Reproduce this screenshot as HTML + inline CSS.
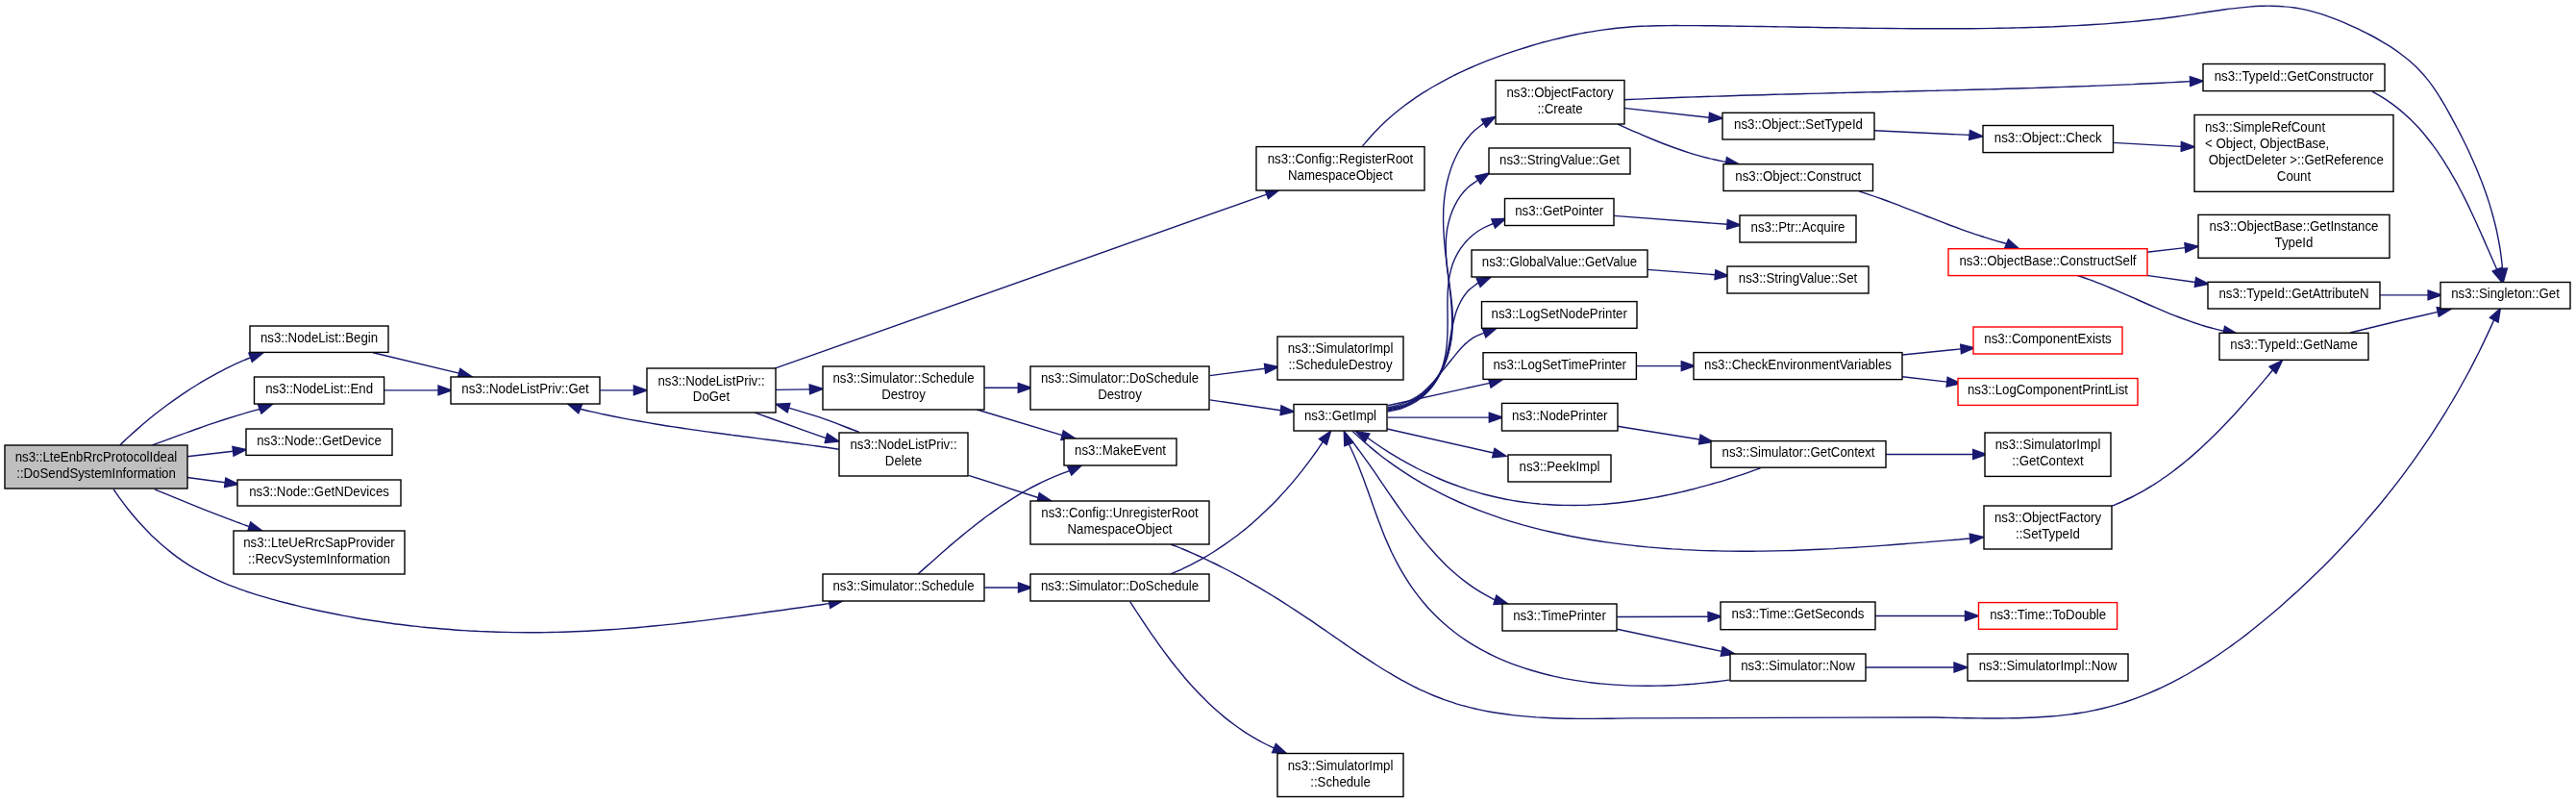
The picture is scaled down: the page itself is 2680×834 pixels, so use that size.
<!DOCTYPE html>
<html><head><meta charset="utf-8"><style>html,body{margin:0;padding:0;background:#fff;}svg{display:block;will-change:transform}text{font-family:"Liberation Sans",sans-serif;font-size:13.25px;fill:#000}</style></head><body>
<svg width="2680" height="834" viewBox="0 0 2680 834">
<g fill="none" stroke="#191970" stroke-width="1.4">
<path d="M124.8,462.9 C127.9,460.0 130.9,457.0 134.1,454.1 C137.2,451.2 140.4,448.4 143.6,445.6 C146.8,442.8 150.1,440.0 153.3,437.3 C156.5,434.6 159.7,432.1 162.9,429.5 C166.3,426.9 169.7,424.3 173.1,421.7 C176.5,419.2 180.0,416.7 183.5,414.3 C186.9,411.9 190.2,409.6 193.7,407.3 C197.2,405.0 200.8,402.7 204.5,400.5 C208.1,398.2 211.8,396.0 215.5,393.9 C219.1,391.9 222.6,389.9 226.3,387.9 C230.0,386.0 233.8,384.0 237.6,382.1 C241.5,380.2 245.3,378.4 249.2,376.7 C253.0,374.9 256.8,373.4 260.6,371.8"/>
<path d="M158.4,462.9 C162.6,461.4 166.8,459.9 170.9,458.4 C175.0,456.9 179.0,455.4 183.1,453.9 C187.3,452.4 191.5,450.8 195.6,449.4 C199.7,447.9 203.8,446.4 207.9,445.0 C212.0,443.5 216.1,442.1 220.2,440.7 C224.4,439.3 228.6,437.9 232.8,436.5 C237.0,435.2 241.1,433.9 245.2,432.6 C249.4,431.3 253.5,430.1 257.7,428.9 C261.9,427.7 266.1,426.6 270.2,425.5"/>
<path d="M194.7,474.8 L242.5,469.2"/>
<path d="M194.8,496.5 L234.2,501.8"/>
<path d="M160.9,508.9 C177.2,515.5 193.4,522.3 209.8,528.8 C226.2,535.3 242.8,541.4 259.2,547.7"/>
<path d="M118.2,509.0 C120.9,512.8 123.6,516.8 126.3,520.4 C128.8,523.8 131.1,526.8 133.6,530.0 C136.1,533.1 138.7,536.2 141.3,539.2 C143.9,542.2 146.6,545.2 149.3,548.1 C152.0,551.0 154.8,553.9 157.6,556.7 C160.5,559.4 163.4,562.1 166.3,564.8 C169.3,567.4 172.3,570.0 175.4,572.4 C178.4,574.9 181.4,577.2 184.7,579.6 C188.3,582.2 192.4,584.9 196.1,587.3 C199.5,589.4 202.7,591.3 206.1,593.2 C209.5,595.2 213.0,597.0 216.5,598.7 C220.0,600.5 223.6,602.1 227.1,603.7 C230.7,605.3 234.2,606.8 238.0,608.3 C242.1,609.9 246.7,611.7 250.9,613.1 C254.7,614.5 258.4,615.7 262.1,616.9 C265.9,618.2 269.7,619.3 273.5,620.4 C277.3,621.6 281.1,622.6 285.0,623.7 C288.8,624.8 292.6,625.8 296.5,626.8 C300.4,627.7 304.2,628.7 308.1,629.6 C311.9,630.6 315.8,631.5 319.7,632.4 C323.6,633.3 327.3,634.1 331.3,635.0 C335.7,635.9 340.6,636.9 344.9,637.8 C349.0,638.6 352.7,639.3 356.6,640.1 C360.5,640.8 364.5,641.5 368.4,642.2 C372.3,642.9 376.2,643.6 380.1,644.2 C384.0,644.8 387.9,645.4 391.9,646.0 C395.8,646.6 399.7,647.2 403.6,647.7 C407.6,648.3 411.5,648.8 415.4,649.3 C419.4,649.8 423.2,650.3 427.2,650.7 C431.7,651.2 436.6,651.8 441.0,652.2 C445.1,652.6 448.9,653.0 452.9,653.3 C456.8,653.7 460.8,654.0 464.7,654.3 C468.7,654.7 472.6,654.9 476.6,655.2 C480.5,655.5 484.5,655.7 488.5,656.0 C492.4,656.2 496.4,656.4 500.3,656.6 C504.3,656.7 508.1,656.9 512.2,657.0 C516.7,657.2 521.6,657.3 526.1,657.4 C530.2,657.5 534.0,657.6 538.0,657.6 C541.9,657.7 545.9,657.7 549.8,657.7 C553.8,657.7 557.8,657.7 561.7,657.7 C565.7,657.6 569.6,657.6 573.6,657.5 C577.6,657.4 581.5,657.3 585.5,657.2 C589.4,657.1 593.2,657.0 597.3,656.8 C601.8,656.6 606.7,656.4 611.2,656.2 C615.3,656.0 619.1,655.8 623.0,655.5 C627.0,655.3 630.9,655.1 634.9,654.8 C638.8,654.5 642.8,654.2 646.7,653.9 C650.7,653.6 654.6,653.3 658.5,653.0 C662.5,652.6 666.4,652.3 670.4,651.9 C674.3,651.6 678.1,651.2 682.2,650.8 C686.6,650.4 691.5,649.9 696.0,649.4 C700.1,649.0 703.8,648.6 707.8,648.1 C711.7,647.7 715.6,647.2 719.6,646.8 C723.5,646.3 727.4,645.8 731.4,645.4 C735.3,644.9 739.2,644.4 743.2,643.9 C747.1,643.4 751.0,642.9 754.9,642.4 C758.9,641.9 762.6,641.4 766.7,640.9 C771.1,640.3 776.1,639.6 780.5,639.0 C784.5,638.5 788.3,638.0 792.2,637.4 C796.2,636.9 800.1,636.3 804.0,635.8 C807.9,635.3 811.9,634.7 815.8,634.2 C819.7,633.6 823.6,633.1 827.6,632.5 C831.5,632.0 835.4,631.4 839.3,630.9 C843.2,630.3 847.2,629.8 851.1,629.2 C855.0,628.7 858.9,628.1 862.9,627.6"/>
<path d="M388.1,366.7 L477.5,388.1"/>
<path d="M399.8,405.9 L456.0,405.9"/>
<path d="M624.3,405.9 L659.4,405.9"/>
<path d="M872.6,467.2 C868.3,466.6 864.0,465.9 859.8,465.3 C855.7,464.8 851.7,464.2 847.6,463.6 C843.6,463.1 839.5,462.5 835.4,462.0 C831.4,461.4 827.3,460.9 823.3,460.4 C819.2,459.8 815.1,459.3 811.1,458.8 C807.0,458.2 803.0,457.7 798.9,457.2 C794.8,456.7 790.8,456.2 786.7,455.6 C782.5,455.1 778.1,454.5 773.8,454.0 C769.7,453.4 765.7,452.9 761.6,452.4 C757.6,451.8 753.5,451.3 749.4,450.8 C745.4,450.2 741.3,449.7 737.3,449.1 C733.2,448.6 729.2,448.0 725.1,447.4 C721.0,446.9 717.0,446.3 712.9,445.7 C708.9,445.1 704.8,444.5 700.8,443.9 C696.7,443.3 692.7,442.7 688.6,442.0 C684.4,441.3 680.1,440.6 675.9,439.9 C671.8,439.2 667.8,438.5 663.8,437.8 C659.7,437.1 655.7,436.4 651.7,435.6 C647.7,434.8 643.7,434.0 639.6,433.2 C635.6,432.4 631.6,431.6 627.6,430.7 C623.6,429.9 619.6,429.0 615.6,428.1 C611.6,427.2 607.7,426.2 603.7,425.2"/>
<path d="M807.1,405.4 L842.4,404.9"/>
<path d="M784.8,428.8 C801.4,434.8 820.8,441.9 834.5,446.8 C844.2,450.3 851.1,452.7 859.4,455.6"/>
<path d="M893.9,449.4 C879.9,444.2 865.0,438.1 852.0,433.7 C840.8,429.9 831.1,427.3 820.6,424.1"/>
<path d="M806.0,383.2 L1317.8,202.1"/>
<path d="M1007.8,494.4 L1080.1,517.5"/>
<path d="M1024.4,403.3 L1059.3,403.3"/>
<path d="M1016.6,426.0 L1105.1,452.6"/>
<path d="M954.8,597.2 C957.9,594.4 961.0,591.6 964.1,588.9 C967.1,586.2 970.1,583.6 973.1,580.9 C976.1,578.2 979.1,575.6 982.1,573.0 C985.1,570.4 987.9,567.9 990.9,565.4 C994.0,562.8 997.1,560.2 1000.2,557.6 C1003.3,555.0 1006.4,552.5 1009.6,550.0 C1012.7,547.5 1015.9,545.0 1019.1,542.5 C1022.3,540.1 1025.5,537.6 1028.8,535.3 C1032.0,532.9 1035.3,530.6 1038.6,528.3 C1041.9,526.0 1045.2,523.8 1048.6,521.6 C1052.0,519.4 1055.4,517.3 1058.8,515.2 C1062.2,513.1 1065.7,511.1 1069.2,509.2 C1072.7,507.2 1076.3,505.3 1079.9,503.5 C1083.4,501.7 1087.1,500.0 1090.7,498.4 C1094.4,496.7 1098.1,495.1 1101.8,493.6 C1105.5,492.2 1109.1,490.9 1112.7,489.6"/>
<path d="M1024.4,611.0 L1059.5,611.0"/>
<path d="M1258.7,390.6 L1316.1,383.2"/>
<path d="M1258.7,415.9 L1332.6,426.8"/>
<path d="M1218.0,596.9 C1221.9,595.2 1225.9,593.5 1229.8,591.8 C1233.5,590.0 1237.1,588.3 1240.8,586.4 C1244.5,584.4 1248.4,582.4 1252.0,580.3 C1255.6,578.2 1259.0,576.2 1262.5,574.0 C1266.1,571.7 1269.7,569.3 1273.2,566.9 C1276.6,564.6 1279.9,562.3 1283.2,559.8 C1286.6,557.3 1290.0,554.6 1293.3,552.0 C1296.5,549.4 1299.6,546.9 1302.7,544.2 C1305.9,541.4 1309.2,538.5 1312.2,535.6 C1315.3,532.8 1318.2,530.0 1321.1,527.1 C1324.1,524.1 1327.2,521.0 1330.1,517.9 C1332.9,514.9 1335.6,512.0 1338.4,508.9 C1341.2,505.7 1344.1,502.4 1346.8,499.1 C1349.4,496.0 1352.0,492.8 1354.5,489.6 C1357.0,486.4 1359.5,483.2 1362.0,479.9 C1364.5,476.5 1367.0,472.9 1369.5,469.5 C1371.8,466.1 1374.1,462.8 1376.3,459.4"/>
<path d="M1175.7,625.6 C1177.9,629.1 1180.2,632.5 1182.4,636.0 C1184.6,639.3 1186.7,642.6 1188.9,645.9 C1191.1,649.2 1193.3,652.5 1195.6,655.8 C1197.9,659.2 1200.4,662.7 1202.8,666.1 C1205.1,669.4 1207.4,672.6 1209.8,675.9 C1212.2,679.1 1214.6,682.3 1217.0,685.5 C1219.4,688.7 1221.9,691.8 1224.4,694.9 C1227.0,698.1 1229.5,701.2 1232.1,704.2 C1234.7,707.3 1237.3,710.3 1240.0,713.2 C1242.7,716.2 1245.4,719.1 1248.2,722.0 C1251.0,724.8 1253.8,727.7 1256.7,730.4 C1259.5,733.2 1262.4,735.8 1265.4,738.5 C1268.5,741.2 1271.7,744.0 1274.9,746.6 C1278.0,749.1 1281.1,751.5 1284.3,753.8 C1287.5,756.2 1290.7,758.4 1294.0,760.6 C1297.3,762.8 1300.7,764.9 1304.1,766.9 C1307.7,769.0 1311.5,771.1 1315.1,773.0 C1318.6,774.8 1322.0,776.3 1325.5,777.9"/>
<path d="M1417.5,151.9 C1420.6,148.3 1423.8,144.4 1426.7,141.2 C1429.2,138.4 1431.3,136.3 1433.9,133.7 C1436.9,130.6 1440.8,127.0 1444.0,124.1 C1446.7,121.6 1448.9,119.7 1451.8,117.3 C1455.1,114.6 1459.2,111.4 1462.6,108.8 C1465.6,106.6 1467.9,104.9 1471.0,102.8 C1474.5,100.4 1478.9,97.6 1482.5,95.3 C1485.6,93.3 1488.1,91.8 1491.3,90.0 C1495.0,87.8 1499.5,85.3 1503.3,83.3 C1506.6,81.5 1509.2,80.2 1512.5,78.5 C1516.3,76.7 1521.1,74.4 1525.0,72.6 C1528.4,71.1 1531.1,69.9 1534.5,68.4 C1538.4,66.8 1543.3,64.8 1547.3,63.2 C1550.8,61.8 1553.5,60.8 1557.0,59.5 C1561.1,58.0 1566.0,56.2 1570.1,54.9 C1573.6,53.6 1576.4,52.7 1580.0,51.6 C1584.0,50.3 1589.1,48.7 1593.2,47.5 C1596.8,46.4 1599.6,45.6 1603.2,44.6 C1607.3,43.5 1612.4,42.1 1616.6,41.1 C1620.1,40.2 1623.0,39.5 1626.6,38.7 C1630.8,37.7 1636.0,36.6 1640.1,35.8 C1643.8,35.0 1646.7,34.5 1650.3,33.8 C1654.5,33.1 1659.7,32.2 1663.9,31.6 C1667.6,31.1 1670.5,30.7 1674.2,30.2 C1678.4,29.7 1683.6,29.1 1687.9,28.7 C1691.5,28.3 1694.5,28.1 1698.2,27.8 C1702.4,27.6 1707.3,27.3 1711.9,27.1 C1716.5,26.9 1721.4,26.8 1725.7,26.7 C1729.4,26.6 1732.3,26.6 1736.0,26.6 C1740.3,26.5 1745.6,26.5 1749.9,26.6 C1753.6,26.6 1756.5,26.6 1760.2,26.6 C1764.5,26.6 1769.8,26.7 1774.1,26.7 C1777.8,26.8 1780.7,26.8 1784.4,26.8 C1788.7,26.9 1794.0,27.0 1798.3,27.0 C1802.0,27.1 1804.9,27.1 1808.6,27.2 C1812.9,27.2 1818.2,27.3 1822.5,27.4 C1826.2,27.4 1829.1,27.5 1832.8,27.5 C1837.1,27.6 1842.4,27.7 1846.7,27.8 C1850.4,27.8 1853.3,27.9 1857.1,27.9 C1861.3,28.0 1866.6,28.1 1870.9,28.2 C1874.6,28.2 1877.8,28.3 1881.3,28.3 C1884.7,28.4 1887.9,28.4 1891.6,28.5 C1895.9,28.6 1901.2,28.7 1905.5,28.7 C1909.2,28.8 1912.1,28.8 1915.9,28.9 C1920.1,29.0 1925.4,29.0 1929.7,29.1 C1933.4,29.2 1936.3,29.2 1940.1,29.2 C1944.3,29.3 1949.6,29.4 1953.9,29.4 C1957.6,29.5 1960.5,29.5 1964.3,29.5 C1968.5,29.6 1973.8,29.6 1978.1,29.6 C1981.8,29.7 1984.7,29.7 1988.4,29.7 C1992.7,29.7 1998.0,29.8 2002.3,29.8 C2006.0,29.8 2008.9,29.8 2012.6,29.8 C2016.9,29.8 2022.2,29.8 2026.4,29.8 C2030.1,29.8 2033.1,29.8 2036.8,29.8 C2041.1,29.7 2046.3,29.7 2050.6,29.7 C2054.3,29.6 2057.3,29.6 2061.0,29.6 C2065.2,29.5 2070.2,29.4 2074.8,29.4 C2079.4,29.3 2084.3,29.2 2088.6,29.1 C2092.3,29.0 2095.2,29.0 2098.9,28.9 C2103.2,28.8 2108.4,28.6 2112.7,28.5 C2116.4,28.4 2119.3,28.3 2123.0,28.2 C2127.3,28.0 2132.5,27.8 2136.8,27.7 C2140.5,27.5 2143.5,27.4 2147.1,27.2 C2151.4,27.0 2156.7,26.8 2160.9,26.6 C2164.6,26.4 2167.5,26.2 2171.2,26.0 C2175.5,25.7 2180.7,25.4 2185.0,25.1 C2188.7,24.9 2191.6,24.7 2195.3,24.4 C2199.6,24.1 2204.8,23.7 2209.1,23.3 C2212.8,23.0 2215.7,22.7 2219.4,22.4 C2223.6,22.0 2228.9,21.5 2233.1,21.0 C2236.8,20.6 2239.7,20.3 2243.4,19.9 C2247.7,19.4 2252.9,18.8 2257.2,18.2 C2260.9,17.8 2263.8,17.4 2267.5,16.9 C2271.7,16.3 2277.0,15.5 2281.2,14.9 C2284.9,14.3 2287.8,13.8 2291.5,13.3 C2295.8,12.6 2301.0,11.8 2305.2,11.2 C2308.9,10.7 2311.8,10.2 2315.5,9.7 C2319.8,9.2 2325.0,8.5 2329.2,8.1 C2332.9,7.7 2335.8,7.4 2339.5,7.1 C2343.7,6.8 2348.9,6.5 2353.1,6.3 C2356.8,6.2 2359.7,6.1 2363.4,6.2 C2367.6,6.3 2372.8,6.5 2377.0,6.9 C2380.6,7.1 2383.5,7.5 2387.1,8.0 C2391.3,8.6 2396.5,9.6 2400.7,10.6 C2404.3,11.4 2407.2,12.2 2410.8,13.3 C2415.0,14.5 2420.1,16.3 2424.2,17.8 C2427.8,19.1 2430.8,20.3 2434.1,21.7 C2437.4,23.0 2440.5,24.3 2443.9,25.9 C2447.9,27.7 2452.8,29.9 2456.8,31.8 C2460.2,33.5 2462.8,34.8 2466.2,36.5 C2470.0,38.5 2474.6,41.1 2478.3,43.3 C2481.5,45.1 2484.0,46.7 2487.1,48.7 C2490.6,51.0 2494.9,54.0 2498.2,56.5 C2501.1,58.7 2503.4,60.5 2506.2,62.8 C2509.3,65.6 2512.9,68.8 2516.1,72.0 C2519.2,75.2 2522.5,78.9 2525.1,82.1 C2527.5,84.9 2529.2,87.3 2531.3,90.3 C2533.8,93.8 2536.7,98.3 2538.9,102.0 C2540.9,105.1 2542.4,107.8 2544.3,111.0 C2546.4,114.8 2549.0,119.5 2551.1,123.3 C2552.9,126.6 2554.4,129.4 2556.0,132.5 C2557.7,135.6 2559.1,138.5 2560.8,141.8 C2562.8,145.7 2565.1,150.4 2567.0,154.3 C2568.6,157.6 2569.8,160.3 2571.3,163.7 C2573.1,167.6 2575.2,172.4 2576.9,176.4 C2578.3,179.8 2579.4,182.5 2580.7,186.0 C2582.3,189.9 2584.1,194.8 2585.6,198.8 C2586.8,202.3 2587.7,205.1 2588.9,208.6 C2590.2,212.6 2591.6,217.3 2592.8,221.7 C2594.1,226.1 2595.3,230.9 2596.3,235.0 C2597.2,238.6 2597.8,241.5 2598.5,245.1 C2599.4,249.3 2600.3,254.5 2601.0,258.7 C2601.6,262.3 2602.0,265.5 2602.4,269.0 C2602.9,272.5 2603.2,275.9 2603.5,279.4"/>
<path d="M1218.0,566.0 C1222.2,567.7 1226.5,569.3 1230.6,571.0 C1234.3,572.5 1237.8,574.0 1241.4,575.6 C1245.0,577.2 1248.5,578.8 1252.1,580.4 C1255.6,582.1 1259.0,583.7 1262.6,585.5 C1266.5,587.4 1270.7,589.5 1274.5,591.5 C1278.1,593.3 1281.4,595.0 1284.9,596.9 C1288.3,598.7 1291.6,600.5 1295.1,602.5 C1298.8,604.6 1302.9,606.9 1306.6,609.1 C1310.1,611.1 1313.3,613.0 1316.6,615.1 C1320.0,617.1 1323.3,619.1 1326.6,621.1 C1329.9,623.2 1333.1,625.2 1336.5,627.4 C1340.1,629.7 1344.1,632.3 1347.7,634.6 C1351.1,636.9 1354.3,639.0 1357.5,641.1 C1360.8,643.3 1364.1,645.5 1367.3,647.7 C1370.6,649.9 1373.8,652.2 1377.1,654.4 C1380.3,656.6 1383.4,658.8 1386.8,661.1 C1390.4,663.6 1394.4,666.4 1398.0,668.9 C1401.3,671.2 1404.5,673.3 1407.8,675.6 C1411.0,677.8 1414.3,680.0 1417.6,682.2 C1420.9,684.4 1424.2,686.5 1427.5,688.7 C1430.8,690.8 1434.0,692.8 1437.4,695.0 C1441.1,697.3 1445.2,699.7 1448.9,701.9 C1452.4,704.0 1455.7,705.8 1459.1,707.7 C1462.5,709.6 1465.9,711.4 1469.4,713.1 C1472.8,714.9 1476.2,716.5 1479.8,718.2 C1483.6,720.0 1487.9,721.9 1491.9,723.5 C1495.5,725.0 1498.9,726.3 1502.6,727.7 C1506.6,729.1 1511.0,730.5 1515.1,731.8 C1518.9,732.9 1522.5,733.9 1526.2,734.9 C1529.9,735.9 1533.5,736.7 1537.4,737.6 C1541.6,738.5 1546.2,739.4 1550.4,740.2 C1554.4,740.9 1558.1,741.5 1561.9,742.0 C1565.8,742.6 1569.5,743.1 1573.5,743.6 C1577.8,744.1 1582.5,744.6 1586.8,744.9 C1590.8,745.3 1594.6,745.6 1598.5,745.9 C1602.5,746.1 1606.4,746.3 1610.3,746.5 C1614.3,746.7 1618.2,746.9 1622.1,747.0 C1626.1,747.1 1630.0,747.2 1634.0,747.2 C1637.9,747.3 1641.7,747.4 1645.8,747.4 C1650.2,747.4 1655.0,747.4 1659.3,747.4 C1663.4,747.3 1667.2,747.3 1671.1,747.3 C1675.0,747.2 1679.0,747.2 1682.9,747.1 C1686.8,747.0 1690.7,746.9 1694.6,746.9 L2009.7,745.9 C2013.4,746.0 2016.9,746.1 2020.7,746.2 C2024.9,746.3 2029.7,746.4 2034.0,746.5 C2037.8,746.6 2041.2,746.6 2045.0,746.7 C2049.3,746.8 2054.1,746.8 2058.3,746.9 C2062.2,746.9 2065.7,747.0 2069.4,747.0 C2073.2,747.0 2076.7,747.0 2080.6,747.0 C2084.8,746.9 2089.7,746.9 2094.0,746.8 C2097.9,746.8 2101.2,746.7 2105.1,746.5 C2109.4,746.4 2114.3,746.2 2118.5,746.0 C2122.4,745.8 2125.9,745.6 2129.6,745.3 C2133.3,745.0 2136.8,744.7 2140.7,744.4 C2144.9,743.9 2149.7,743.4 2153.9,742.9 C2157.7,742.4 2161.0,741.9 2164.7,741.3 C2168.9,740.6 2173.6,739.7 2177.7,738.9 C2181.4,738.2 2184.6,737.4 2188.3,736.5 C2192.3,735.5 2196.9,734.3 2200.9,733.2 C2204.5,732.1 2207.7,731.1 2211.3,730.0 C2215.2,728.7 2219.5,727.2 2223.5,725.6 C2227.6,724.1 2231.8,722.4 2235.6,720.8 C2239.1,719.4 2242.1,718.1 2245.5,716.5 C2249.3,714.8 2253.6,712.7 2257.3,710.9 C2260.7,709.2 2263.6,707.6 2267.0,705.9 C2270.6,703.9 2274.8,701.6 2278.4,699.5 C2281.7,697.6 2284.6,695.9 2287.8,693.9 C2291.4,691.7 2295.4,689.2 2299.0,686.9 C2302.2,684.8 2305.0,683.0 2308.1,680.8 C2311.6,678.5 2315.6,675.7 2319.0,673.3 C2322.1,671.0 2325.0,669.0 2327.9,666.8 C2330.9,664.6 2333.7,662.4 2336.8,660.1 C2340.1,657.5 2343.9,654.5 2347.2,651.8 C2350.2,649.4 2352.8,647.3 2355.8,644.8 C2359.1,642.1 2362.8,639.0 2366.0,636.3 C2369.0,633.7 2371.5,631.5 2374.4,629.0 C2377.6,626.2 2381.2,623.0 2384.3,620.1 C2387.2,617.5 2389.8,615.2 2392.5,612.7 C2395.2,610.2 2397.8,607.8 2400.6,605.1 C2403.7,602.2 2407.1,598.9 2410.2,595.9 C2412.9,593.2 2415.3,590.9 2418.0,588.2 C2421.0,585.2 2424.4,581.7 2427.3,578.7 C2430.0,576.0 2432.3,573.6 2435.0,570.8 C2437.8,567.7 2441.1,564.2 2444.0,561.1 C2446.6,558.3 2448.8,555.8 2451.4,553.0 C2454.2,549.9 2457.4,546.3 2460.1,543.1 C2462.7,540.2 2464.8,537.7 2467.3,534.8 C2470.0,531.6 2473.1,527.9 2475.8,524.7 C2478.2,521.7 2480.4,519.0 2482.7,516.2 C2485.0,513.3 2487.2,510.6 2489.5,507.6 C2492.1,504.3 2495.0,500.5 2497.6,497.1 C2499.9,494.1 2501.9,491.4 2504.1,488.3 C2506.6,485.0 2509.4,481.1 2511.9,477.7 C2514.1,474.6 2516.0,471.9 2518.2,468.7 C2520.6,465.3 2523.3,461.3 2525.6,457.9 C2527.7,454.7 2529.6,451.9 2531.7,448.7 C2533.9,445.2 2536.5,441.2 2538.8,437.6 C2540.8,434.4 2542.6,431.6 2544.6,428.3 C2546.7,424.7 2549.2,420.6 2551.4,417.0 C2553.3,413.7 2555.0,410.9 2556.9,407.5 C2559.0,403.9 2561.3,399.7 2563.3,396.0 C2565.2,392.7 2566.8,389.7 2568.6,386.4 C2570.6,382.6 2572.8,378.4 2574.7,374.6 C2576.5,371.2 2578.0,368.2 2579.7,364.8 C2581.5,361.0 2583.6,356.7 2585.4,352.9 C2587.1,349.4 2588.6,346.2 2590.1,342.9 C2591.7,339.5 2593.2,336.1 2594.7,332.8"/>
<path d="M1443.7,425.0 C1447.8,424.2 1452.0,423.7 1455.9,422.5 C1459.8,421.4 1463.5,419.9 1467.1,418.0 C1470.9,416.1 1474.6,413.6 1477.9,411.1 C1481.2,408.6 1484.0,405.9 1486.8,403.0 C1489.5,400.1 1492.0,397.0 1494.3,393.7 C1496.7,390.2 1498.9,386.3 1500.8,382.5 C1502.6,378.9 1504.1,375.2 1505.4,371.4 C1506.8,367.7 1507.8,363.9 1508.7,359.9 C1509.6,355.8 1510.3,351.4 1510.7,347.2 C1511.2,343.2 1511.4,339.3 1511.4,335.3 C1511.5,331.3 1511.4,327.4 1511.1,323.3 C1510.9,319.1 1510.4,314.7 1509.9,310.5 C1509.5,306.5 1508.9,302.5 1508.4,298.5 C1507.9,294.5 1507.3,290.5 1506.8,286.5 C1506.2,282.5 1505.7,278.5 1505.2,274.4 C1504.7,270.4 1504.2,266.5 1503.7,262.4 C1503.3,258.1 1502.8,253.6 1502.5,249.4 C1502.2,245.3 1501.9,241.4 1501.8,237.3 C1501.6,233.3 1501.5,229.3 1501.6,225.3 C1501.6,221.3 1501.7,217.4 1502.0,213.4 C1502.3,209.2 1502.8,204.8 1503.4,200.7 C1504.0,196.7 1504.7,192.9 1505.6,189.0 C1506.6,184.9 1507.8,180.6 1509.1,176.6 C1510.4,172.7 1511.9,168.9 1513.6,165.3 C1515.3,161.6 1517.1,157.9 1519.2,154.5 C1521.3,151.0 1523.6,147.7 1526.1,144.5 C1528.6,141.4 1531.3,138.4 1534.3,135.6 C1537.2,132.9 1540.6,130.6 1543.7,128.1"/>
<path d="M1443.7,426.0 C1447.9,425.1 1452.3,424.7 1456.3,423.4 C1460.2,422.2 1463.9,420.6 1467.5,418.7 C1471.1,416.8 1474.6,414.5 1477.9,412.1 C1481.1,409.6 1484.2,406.9 1487.0,403.9 C1489.9,400.9 1492.7,397.5 1495.1,394.1 C1497.3,390.8 1499.2,387.4 1501.0,383.8 C1502.7,380.2 1504.2,376.2 1505.5,372.3 C1506.8,368.3 1507.7,364.2 1508.5,360.1 C1509.2,356.1 1509.7,352.3 1510.1,348.2 C1510.4,344.0 1510.6,339.5 1510.6,335.3 C1510.7,331.2 1510.5,327.1 1510.3,323.0 C1510.1,318.9 1509.8,314.8 1509.4,310.7 C1509.0,306.6 1508.5,302.6 1508.0,298.5 C1507.5,294.5 1506.9,290.5 1506.5,286.4 C1506.0,282.4 1505.5,278.5 1505.1,274.4 C1504.8,270.3 1504.4,266.0 1504.3,261.8 C1504.2,257.7 1504.2,253.4 1504.4,249.3 C1504.7,245.4 1505.0,241.5 1505.7,237.6 C1506.5,233.5 1507.5,229.3 1508.8,225.3 C1510.0,221.4 1511.5,217.6 1513.4,213.9 C1515.2,210.3 1517.3,206.7 1519.7,203.4 C1522.1,200.2 1524.9,197.0 1527.9,194.3 C1530.9,191.6 1534.4,189.6 1537.7,187.2"/>
<path d="M1443.7,427.0 C1447.9,426.1 1452.2,425.6 1456.2,424.4 C1460.0,423.2 1463.7,421.8 1467.3,420.0 C1470.9,418.1 1474.5,415.9 1477.8,413.4 C1481.2,410.9 1484.5,407.9 1487.3,404.8 C1490.0,401.8 1492.3,398.7 1494.4,395.2 C1496.5,391.7 1498.3,387.8 1499.8,384.0 C1501.2,380.2 1502.2,376.3 1503.1,372.4 C1504.0,368.4 1504.6,364.3 1505.0,360.2 C1505.5,356.0 1505.7,351.7 1505.9,347.6 C1506.1,343.5 1506.0,339.6 1506.1,335.6 C1506.1,331.4 1506.0,327.1 1506.0,322.9 C1505.9,318.7 1505.9,314.5 1506.0,310.4 C1506.1,306.2 1506.2,302.1 1506.6,298.0 C1507.0,294.0 1507.4,290.1 1508.2,286.1 C1509.1,282.0 1510.1,277.9 1511.5,274.0 C1512.9,270.2 1514.6,266.6 1516.6,263.1 C1518.6,259.6 1521.0,256.2 1523.6,253.1 C1526.3,249.9 1529.3,246.9 1532.5,244.3 C1535.6,241.7 1538.9,239.4 1542.4,237.5 C1545.9,235.5 1549.9,234.1 1553.6,232.5"/>
<path d="M1443.7,428.0 C1447.9,427.1 1452.3,426.5 1456.4,425.3 C1460.4,424.0 1464.3,422.4 1468.0,420.5 C1471.6,418.7 1475.1,416.5 1478.3,414.0 C1481.6,411.4 1484.8,408.3 1487.6,405.1 C1490.3,402.0 1492.7,398.6 1494.8,395.1 C1496.9,391.5 1498.8,387.7 1500.4,383.9 C1502.0,380.0 1503.3,375.8 1504.5,371.8 C1505.6,367.7 1506.4,363.6 1507.3,359.5 C1508.1,355.4 1508.8,351.3 1509.6,347.2 C1510.4,343.1 1511.1,339.0 1512.1,334.9 C1513.1,330.8 1514.1,326.7 1515.5,322.8 C1517.0,318.9 1518.6,315.1 1520.7,311.6 C1522.8,308.0 1525.4,304.6 1528.3,301.6 C1531.2,298.7 1534.8,296.5 1538.1,293.9"/>
<path d="M1443.7,424.0 C1448.0,422.9 1452.3,422.1 1456.5,420.7 C1460.6,419.3 1464.7,417.6 1468.6,415.6 C1472.4,413.6 1476.1,411.3 1479.5,408.7 C1482.8,406.1 1485.8,403.0 1488.8,399.8 C1491.8,396.7 1494.5,393.2 1497.3,389.9 C1500.1,386.6 1502.8,383.1 1505.5,379.8 C1508.3,376.4 1510.9,372.9 1513.7,369.6 C1516.5,366.2 1519.2,362.8 1522.3,359.8 C1525.4,356.7 1528.7,353.6 1532.4,351.3 C1536.0,349.0 1540.1,347.8 1544.0,346.1"/>
<path d="M1443.7,421.7 L1549.8,398.4"/>
<path d="M1443.7,434.1 L1549.3,434.1"/>
<path d="M1443.2,446.0 L1553.8,471.0"/>
<path d="M1398.3,448.4 C1401.0,451.7 1403.8,455.1 1406.4,458.4 C1409.0,461.7 1411.4,465.0 1413.9,468.3 C1416.4,471.6 1418.8,475.0 1421.2,478.4 C1423.7,481.8 1426.1,485.2 1428.5,488.7 C1430.9,492.1 1433.2,495.6 1435.6,499.1 C1438.0,502.6 1440.4,506.1 1442.8,509.6 C1445.1,512.9 1447.3,516.2 1449.6,519.5 C1452.0,523.0 1454.4,526.5 1456.9,529.9 C1459.3,533.4 1461.7,536.8 1464.2,540.2 C1466.7,543.6 1469.2,547.0 1471.8,550.3 C1474.3,553.7 1476.9,557.0 1479.5,560.2 C1482.2,563.4 1484.8,566.7 1487.6,569.8 C1490.3,572.9 1493.1,576.0 1495.9,579.0 C1498.8,582.0 1501.7,585.0 1504.6,587.9 C1507.6,590.7 1510.6,593.5 1513.8,596.2 C1517.0,599.0 1520.4,601.8 1523.8,604.4 C1527.1,606.9 1530.5,609.3 1533.9,611.6 C1537.4,613.9 1541.0,616.1 1544.6,618.2 C1548.1,620.2 1551.7,621.9 1555.3,623.8"/>
<path d="M1407.3,448.4 C1410.3,451.2 1413.2,454.0 1416.2,456.7 C1419.1,459.4 1422.2,462.0 1425.2,464.6 C1428.3,467.2 1431.3,469.6 1434.5,472.2 C1437.9,474.9 1441.8,477.8 1445.3,480.4 C1448.6,482.8 1451.7,485.0 1455.0,487.2 C1458.2,489.4 1461.5,491.5 1464.8,493.6 C1468.1,495.7 1471.4,497.8 1474.8,499.8 C1478.1,501.8 1481.5,503.7 1484.9,505.6 C1488.3,507.5 1491.6,509.3 1495.2,511.1 C1499.0,513.1 1503.2,515.2 1507.1,517.1 C1510.7,518.8 1514.2,520.4 1517.7,522.0 C1521.3,523.5 1524.8,525.1 1528.4,526.6 C1532.0,528.0 1535.6,529.5 1539.2,530.9 C1542.9,532.3 1546.4,533.6 1550.2,534.9 C1554.2,536.4 1558.7,537.9 1562.8,539.3 C1566.6,540.5 1570.2,541.7 1574.0,542.8 C1577.7,543.9 1581.4,545.0 1585.2,546.1 C1589.0,547.1 1592.7,548.1 1596.5,549.1 C1600.3,550.1 1604.1,551.0 1607.9,551.9 C1611.7,552.8 1615.4,553.7 1619.4,554.5 C1623.6,555.5 1628.3,556.4 1632.6,557.3 C1636.5,558.1 1640.3,558.8 1644.1,559.5 C1648.0,560.2 1651.9,560.8 1655.8,561.5 C1659.6,562.1 1663.5,562.7 1667.4,563.3 C1671.3,563.8 1675.2,564.4 1679.1,564.9 C1683.0,565.4 1686.9,565.9 1690.8,566.4 C1694.7,566.9 1698.7,567.3 1702.6,567.7 C1706.5,568.1 1710.4,568.5 1714.4,568.9 C1718.3,569.2 1722.1,569.6 1726.2,569.9 C1730.5,570.2 1735.3,570.6 1739.7,570.9 C1743.7,571.1 1747.5,571.3 1751.5,571.6 C1755.4,571.8 1759.4,572.0 1763.3,572.1 C1767.3,572.3 1771.3,572.5 1775.2,572.6 C1779.2,572.7 1783.1,572.8 1787.1,572.9 C1791.0,573.0 1795.0,573.1 1799.0,573.1 C1802.9,573.2 1806.9,573.2 1810.9,573.2 C1814.8,573.2 1818.8,573.2 1822.8,573.2 C1826.7,573.2 1830.7,573.1 1834.6,573.1 C1838.6,573.0 1842.6,573.0 1846.5,572.9 C1850.5,572.8 1854.5,572.7 1858.4,572.6 C1862.4,572.5 1866.4,572.4 1870.3,572.2 C1874.3,572.1 1878.2,571.9 1882.2,571.8 C1886.2,571.6 1890.0,571.4 1894.1,571.2 C1898.4,571.0 1903.2,570.8 1907.6,570.6 C1911.7,570.3 1915.5,570.1 1919.5,569.9 C1923.4,569.7 1927.3,569.4 1931.3,569.2 C1935.2,568.9 1939.1,568.7 1943.1,568.4 C1947.0,568.1 1950.9,567.9 1954.9,567.6 C1958.8,567.3 1962.7,567.0 1966.6,566.7 C1970.5,566.4 1974.4,566.1 1978.3,565.8 C1982.2,565.5 1986.0,565.3 1990.0,564.9 C1994.3,564.6 1999.1,564.2 2003.4,563.9 C2007.4,563.5 2011.1,563.2 2015.0,562.9 C2018.9,562.6 2022.7,562.3 2026.6,561.9 C2030.5,561.6 2034.3,561.3 2038.2,561.0 C2042.0,560.6 2045.8,560.3 2049.7,560.0"/>
<path d="M1831.5,486.8 C1827.5,488.2 1823.5,489.7 1819.5,491.1 C1815.5,492.5 1811.4,493.9 1807.4,495.2 C1803.6,496.5 1800.0,497.6 1796.2,498.8 C1792.5,500.0 1788.8,501.1 1784.9,502.2 C1780.9,503.4 1776.5,504.6 1772.5,505.7 C1768.6,506.8 1764.8,507.8 1761.0,508.8 C1757.1,509.7 1753.3,510.7 1749.4,511.6 C1745.3,512.5 1740.8,513.5 1736.7,514.4 C1732.7,515.2 1728.9,516.0 1725.0,516.7 C1721.1,517.4 1717.3,518.1 1713.3,518.8 C1709.1,519.5 1704.6,520.2 1700.4,520.8 C1696.4,521.3 1692.5,521.8 1688.6,522.3 C1684.7,522.8 1680.8,523.2 1676.8,523.5 C1672.6,523.9 1668.1,524.3 1663.9,524.6 C1659.8,524.8 1656.1,525.0 1652.0,525.2 C1647.8,525.3 1643.4,525.4 1639.1,525.5 C1635.1,525.5 1631.3,525.5 1627.4,525.4 C1623.4,525.3 1619.6,525.2 1615.6,525.0 C1611.4,524.7 1607.0,524.4 1602.8,524.1 C1598.8,523.7 1595.1,523.4 1591.1,522.9 C1587.0,522.4 1582.6,521.8 1578.4,521.2 C1574.5,520.6 1570.8,519.9 1566.9,519.2 C1562.8,518.4 1558.4,517.5 1554.4,516.5 C1550.5,515.6 1546.9,514.7 1543.0,513.7 C1539.0,512.6 1534.7,511.3 1530.7,510.1 C1526.9,508.9 1523.3,507.7 1519.5,506.4 C1515.6,505.0 1511.4,503.5 1507.5,502.0 C1503.7,500.5 1500.3,499.1 1496.6,497.5 C1492.7,495.8 1488.6,494.0 1484.8,492.2 C1481.2,490.5 1477.7,488.8 1474.2,487.0 C1470.7,485.2 1467.2,483.3 1463.7,481.4 C1460.0,479.3 1456.1,477.1 1452.4,474.9 C1449.0,472.8 1445.6,470.8 1442.3,468.6 C1438.9,466.5 1435.6,464.3 1432.3,462.0 C1429.0,459.8 1425.8,457.4 1422.6,455.1"/>
<path d="M1799.0,707.1 C1794.9,707.6 1790.8,708.2 1786.6,708.7 C1782.4,709.2 1778.1,709.7 1773.9,710.1 C1770.0,710.5 1766.3,710.8 1762.4,711.2 C1758.2,711.5 1753.6,711.8 1749.3,712.1 C1745.3,712.4 1741.4,712.6 1737.5,712.7 C1733.5,712.9 1729.5,713.0 1725.5,713.1 C1721.5,713.2 1717.5,713.2 1713.5,713.2 C1709.5,713.2 1705.4,713.2 1701.4,713.1 C1697.4,713.0 1693.3,712.8 1689.3,712.6 C1685.2,712.4 1681.2,712.2 1677.2,711.9 C1673.1,711.6 1669.2,711.3 1665.1,710.9 C1660.7,710.5 1656.0,709.9 1651.7,709.4 C1647.6,708.8 1643.7,708.3 1639.7,707.6 C1635.7,707.0 1631.8,706.3 1627.8,705.6 C1623.9,704.8 1620.0,704.0 1616.1,703.1 C1612.2,702.2 1608.3,701.3 1604.4,700.3 C1600.6,699.3 1596.9,698.2 1593.0,697.0 C1588.9,695.8 1584.5,694.4 1580.5,692.9 C1576.7,691.6 1573.1,690.3 1569.4,688.8 C1565.8,687.4 1562.3,685.9 1558.7,684.3 C1554.8,682.5 1550.7,680.6 1547.0,678.6 C1543.4,676.8 1540.2,675.1 1536.8,673.1 C1533.2,671.0 1529.3,668.6 1525.8,666.3 C1522.5,664.2 1519.5,662.1 1516.3,659.7 C1512.9,657.3 1509.4,654.5 1506.2,651.8 C1503.1,649.3 1500.3,646.7 1497.5,644.1 C1494.6,641.4 1491.9,638.7 1489.2,635.8 C1486.2,632.7 1483.2,629.3 1480.5,626.0 C1477.9,622.9 1475.5,619.8 1473.1,616.6 C1470.7,613.4 1468.4,610.2 1466.2,606.8 C1464.0,603.5 1461.8,600.1 1459.8,596.7 C1457.7,593.3 1455.8,589.9 1453.8,586.2 C1451.8,582.4 1449.7,578.2 1447.8,574.3 C1446.1,570.6 1444.5,567.1 1442.9,563.4 C1441.3,559.8 1439.8,556.1 1438.4,552.4 C1436.9,548.7 1435.5,544.9 1434.1,541.2 C1432.7,537.5 1431.4,533.9 1430.0,530.0 C1428.6,526.0 1427.0,521.6 1425.6,517.6 C1424.3,513.8 1423.0,510.1 1421.6,506.4 C1420.3,502.7 1419.0,499.1 1417.6,495.4 C1416.1,491.4 1414.4,487.2 1412.9,483.3 C1411.4,479.6 1409.9,476.1 1408.3,472.5 C1406.7,469.0 1405.0,465.5 1403.4,462.0"/>
<path d="M1689.4,103.7 C1693.8,103.5 1698.4,103.3 1702.7,103.1 C1706.7,103.0 1710.6,102.8 1714.5,102.6 C1718.4,102.5 1722.4,102.3 1726.3,102.2 C1730.2,102.0 1734.2,101.9 1738.1,101.7 C1742.0,101.6 1746.0,101.4 1749.9,101.3 C1753.9,101.2 1757.8,101.0 1761.7,100.9 C1765.7,100.7 1769.5,100.6 1773.5,100.5 C1777.8,100.3 1782.5,100.2 1786.8,100.1 C1790.9,99.9 1794.7,99.8 1798.6,99.7 C1802.6,99.6 1806.5,99.5 1810.5,99.3 C1814.4,99.2 1818.3,99.1 1822.3,99.0 C1826.2,98.9 1830.1,98.8 1834.1,98.7 C1838.0,98.6 1841.8,98.4 1845.9,98.3 C1850.2,98.2 1854.9,98.1 1859.2,98.0 C1863.2,97.9 1867.1,97.8 1871.0,97.7 C1874.9,97.6 1878.9,97.5 1882.8,97.4 C1886.8,97.3 1890.7,97.2 1894.6,97.1 C1898.6,97.0 1902.5,96.9 1906.4,96.8 C1910.4,96.7 1914.3,96.6 1918.3,96.5 C1922.2,96.4 1926.0,96.3 1930.1,96.2 C1934.4,96.1 1939.1,96.0 1943.4,95.9 C1947.4,95.8 1951.2,95.8 1955.2,95.7 C1959.1,95.6 1963.1,95.5 1967.0,95.4 C1970.9,95.3 1974.9,95.2 1978.8,95.1 C1982.7,95.0 1986.7,94.9 1990.6,94.8 C1994.6,94.7 1998.5,94.6 2002.4,94.5 C2006.4,94.4 2010.2,94.4 2014.3,94.3 C2018.6,94.1 2023.2,94.0 2027.5,93.9 C2031.6,93.8 2035.4,93.7 2039.4,93.6 C2043.3,93.5 2047.2,93.4 2051.2,93.3 C2055.1,93.2 2059.0,93.1 2063.0,93.0 C2066.9,92.9 2070.9,92.8 2074.8,92.7 C2078.7,92.6 2082.7,92.5 2086.6,92.3 C2090.5,92.2 2094.4,92.1 2098.4,92.0 C2102.7,91.9 2107.4,91.7 2111.7,91.6 C2115.8,91.5 2119.6,91.3 2123.5,91.2 C2127.5,91.1 2131.4,91.0 2135.3,90.8 C2139.3,90.7 2143.2,90.6 2147.1,90.4 C2151.1,90.3 2155.0,90.2 2159.0,90.0 C2162.9,89.9 2166.8,89.7 2170.8,89.6 C2174.7,89.4 2178.5,89.3 2182.6,89.1 C2186.9,88.9 2191.6,88.8 2195.9,88.6 C2199.9,88.4 2203.7,88.3 2207.7,88.1 C2211.6,87.9 2215.5,87.7 2219.5,87.6 C2223.4,87.4 2227.4,87.2 2231.3,87.0 C2235.2,86.8 2239.2,86.7 2243.1,86.5 C2247.0,86.3 2251.0,86.1 2254.9,85.9 C2258.8,85.7 2262.8,85.5 2266.7,85.3 C2270.6,85.1 2274.6,84.8 2278.5,84.6"/>
<path d="M1689.4,112.4 L1778.2,122.2"/>
<path d="M1683.0,129.0 C1687.1,130.9 1691.2,132.7 1695.3,134.6 C1699.3,136.4 1703.3,138.1 1707.4,139.9 C1711.4,141.6 1715.5,143.3 1719.6,145.0 C1723.7,146.7 1728.0,148.4 1732.1,150.0 C1736.3,151.6 1740.3,153.1 1744.5,154.5 C1748.7,156.0 1753.0,157.5 1757.3,158.8 C1761.5,160.1 1765.7,161.4 1770.0,162.6 C1774.2,163.7 1778.5,164.8 1782.8,165.8 C1787.0,166.8 1791.4,167.6 1795.7,168.5"/>
<path d="M1679.0,224.4 L1797.0,233.3"/>
<path d="M1714.1,280.4 L1784.5,285.7"/>
<path d="M1702.5,380.6 L1749.3,380.6"/>
<path d="M1682.7,443.2 L1768.3,457.0"/>
<path d="M1682.4,641.5 L1777.1,641.3"/>
<path d="M1682.4,654.3 L1791.3,677.4"/>
<path d="M1949.7,135.8 L2049.1,140.4"/>
<path d="M1934.0,198.8 C1938.0,200.1 1942.0,201.4 1946.0,202.8 C1950.0,204.1 1954.0,205.6 1958.0,207.0 C1962.0,208.4 1966.0,209.9 1969.9,211.4 C1973.7,212.8 1977.5,214.3 1981.3,215.8 C1985.3,217.3 1989.2,218.8 1993.2,220.4 C1997.1,221.9 2001.1,223.5 2005.0,225.0 C2008.8,226.5 2012.6,227.9 2016.4,229.4 C2020.3,230.9 2024.3,232.5 2028.2,234.0 C2032.2,235.4 2036.2,236.9 2040.1,238.4 C2044.0,239.8 2047.8,241.1 2051.7,242.4 C2055.6,243.8 2059.7,245.1 2063.7,246.4 C2067.7,247.7 2071.8,249.0 2075.8,250.1 C2079.7,251.3 2083.7,252.3 2087.6,253.4"/>
<path d="M1979.2,369.0 L2040.1,362.9"/>
<path d="M1979.2,391.8 L2025.7,397.1"/>
<path d="M1961.7,472.5 L2052.7,472.5"/>
<path d="M1951.0,640.5 L2044.5,640.5"/>
<path d="M1941.0,694.0 L2033.0,694.0"/>
<path d="M2198.3,148.4 L2269.3,152.4"/>
<path d="M2233.4,262.2 L2273.4,257.6"/>
<path d="M2233.4,286.4 L2283.9,293.5"/>
<path d="M2161.6,286.5 C2165.6,287.9 2169.6,289.2 2173.5,290.7 C2177.5,292.1 2181.4,293.7 2185.3,295.2 C2189.3,296.8 2193.2,298.4 2197.0,300.0 C2200.8,301.6 2204.5,303.2 2208.3,304.8 C2212.1,306.5 2216.0,308.2 2219.9,309.9 C2223.7,311.6 2227.6,313.4 2231.4,315.0 C2235.2,316.7 2238.9,318.3 2242.7,319.9 C2246.5,321.6 2250.4,323.3 2254.3,324.9 C2258.2,326.5 2262.1,328.0 2266.0,329.5 C2270.0,331.1 2273.9,332.5 2277.9,333.9 C2281.8,335.3 2285.6,336.6 2289.5,337.8 C2293.5,339.0 2297.6,340.3 2301.7,341.3 C2305.7,342.4 2309.7,343.3 2313.7,344.2"/>
<path d="M2197.2,526.1 C2201.0,524.5 2204.8,523.0 2208.6,521.3 C2212.3,519.6 2216.0,517.8 2219.7,516.0 C2223.4,514.0 2227.2,512.0 2230.9,509.9 C2234.4,507.8 2237.9,505.7 2241.3,503.6 C2244.7,501.4 2248.1,499.2 2251.4,496.8 C2254.7,494.5 2258.0,492.2 2261.2,489.7 C2264.6,487.2 2268.0,484.5 2271.3,481.9 C2274.4,479.3 2277.5,476.8 2280.6,474.1 C2283.7,471.4 2286.7,468.7 2289.7,466.0 C2292.7,463.3 2295.7,460.5 2298.6,457.6 C2301.5,454.8 2304.4,451.9 2307.3,449.0 C2310.2,446.1 2313.0,443.2 2315.8,440.2 C2318.7,437.2 2321.7,434.0 2324.6,430.9 C2327.4,427.8 2330.1,424.8 2332.8,421.8 C2335.5,418.8 2338.2,415.7 2340.9,412.6 C2343.5,409.5 2346.2,406.5 2348.8,403.4 C2351.5,400.3 2354.1,397.2 2356.7,394.1 C2359.3,391.0 2361.9,387.9 2364.5,384.8"/>
<path d="M2468.1,95.1 C2471.7,97.2 2475.3,99.1 2478.8,101.3 C2482.2,103.4 2485.6,105.7 2488.8,108.1 C2492.1,110.5 2495.2,113.0 2498.3,115.6 C2501.5,118.3 2504.6,121.2 2507.6,124.0 C2510.5,126.8 2513.3,129.7 2516.0,132.6 C2518.7,135.6 2521.3,138.6 2523.8,141.7 C2526.4,144.8 2528.8,148.0 2531.2,151.2 C2533.6,154.4 2536.0,157.7 2538.2,161.1 C2540.5,164.4 2542.7,167.8 2544.8,171.3 C2547.0,174.7 2549.1,178.2 2551.1,181.8 C2553.2,185.3 2555.1,188.9 2557.1,192.5 C2559.0,196.1 2560.9,199.8 2562.8,203.4 C2564.6,206.9 2566.3,210.4 2568.0,213.9 C2569.7,217.6 2571.5,221.3 2573.2,225.0 C2575.0,228.8 2576.7,232.5 2578.3,236.2 C2580.0,239.9 2581.7,243.7 2583.3,247.4 C2584.9,251.1 2586.5,254.8 2588.2,258.5 C2589.8,262.2 2591.4,265.8 2593.0,269.5 C2594.6,273.1 2596.2,276.7 2597.7,280.3"/>
<path d="M2475.7,306.9 L2526.1,306.9"/>
<path d="M2445.0,346.0 C2462.5,341.8 2481.2,337.1 2497.4,333.3 C2511.3,330.0 2523.3,327.4 2536.2,324.4"/>
</g>
<g fill="#191970" stroke="#191970" stroke-width="1.4">
<polygon points="273.7,366.9 262.3,376.4 258.9,367.2"/>
<polygon points="283.3,420.4 272.0,430.0 268.5,420.9"/>
<polygon points="256.4,467.6 243.1,474.1 241.9,464.4"/>
<polygon points="248.1,503.5 233.6,506.7 234.8,497.0"/>
<polygon points="272.6,551.8 257.8,552.3 260.7,543.0"/>
<polygon points="876.6,624.9 863.8,632.4 861.9,622.8"/>
<polygon points="491.0,391.8 476.2,392.9 478.8,383.4"/>
<polygon points="470.0,405.9 456.0,410.8 456.0,401.0"/>
<polygon points="673.4,405.9 659.4,410.8 659.4,401.0"/>
<polygon points="590.7,420.0 605.5,420.7 601.8,429.8"/>
<polygon points="856.4,404.4 842.6,409.8 842.2,400.0"/>
<polygon points="873.0,459.0 858.2,460.4 860.6,450.9"/>
<polygon points="807.1,420.3 821.9,419.4 819.2,428.8"/>
<polygon points="1331.0,197.4 1319.5,206.7 1316.2,197.5"/>
<polygon points="1093.7,520.9 1078.9,522.2 1081.3,512.7"/>
<polygon points="1073.3,403.3 1059.3,408.2 1059.3,398.4"/>
<polygon points="1118.7,456.0 1103.9,457.4 1106.3,447.9"/>
<polygon points="1125.5,483.8 1114.8,494.0 1110.7,485.1"/>
<polygon points="1073.5,611.0 1059.5,615.9 1059.5,606.1"/>
<polygon points="1330.0,381.5 1316.7,388.1 1315.5,378.3"/>
<polygon points="1346.5,428.1 1332.1,431.7 1333.0,421.9"/>
<polygon points="1384.6,448.1 1380.3,462.3 1372.4,456.5"/>
<polygon points="1338.4,783.4 1323.6,782.5 1327.4,773.4"/>
<polygon points="2604.3,293.4 2598.6,279.7 2608.4,279.1"/>
<polygon points="2601.4,320.5 2599.0,335.1 2590.4,330.4"/>
<polygon points="1555.9,121.2 1546.1,132.4 1541.3,123.9"/>
<polygon points="1549.6,179.8 1540.3,191.4 1535.1,183.1"/>
<polygon points="1566.6,227.2 1555.5,237.0 1551.8,228.0"/>
<polygon points="1550.9,288.2 1540.1,298.4 1536.1,289.4"/>
<polygon points="1557.1,341.1 1545.8,350.7 1542.3,341.5"/>
<polygon points="1563.3,394.7 1551.1,403.1 1548.5,393.6"/>
<polygon points="1563.3,434.1 1549.3,439.0 1549.3,429.2"/>
<polygon points="1567.4,474.4 1552.6,475.8 1555.0,466.3"/>
<polygon points="1568.7,627.9 1553.9,628.5 1556.8,619.1"/>
<polygon points="2063.6,558.5 2050.2,564.9 2049.2,555.1"/>
<polygon points="1410.3,448.4 1424.9,450.9 1420.2,459.4"/>
<polygon points="1398.3,449.0 1408.0,460.2 1398.8,463.8"/>
<polygon points="2292.5,84.2 2278.7,89.5 2278.4,79.7"/>
<polygon points="1792.2,123.0 1777.9,127.1 1778.5,117.3"/>
<polygon points="1809.5,170.9 1794.9,173.3 1796.5,163.7"/>
<polygon points="1811.0,234.1 1796.7,238.2 1797.3,228.4"/>
<polygon points="1798.4,286.9 1784.0,290.6 1784.9,280.8"/>
<polygon points="1763.3,380.6 1749.3,385.5 1749.3,375.7"/>
<polygon points="1782.1,459.4 1767.5,461.9 1769.1,452.2"/>
<polygon points="1791.1,641.1 1777.2,646.2 1777.0,636.4"/>
<polygon points="1805.0,680.2 1790.3,682.2 1792.2,672.6"/>
<polygon points="2063.0,141.7 2048.6,145.3 2049.5,135.5"/>
<polygon points="2100.5,258.8 2085.7,257.9 2089.5,248.9"/>
<polygon points="2054.1,361.8 2040.5,367.8 2039.7,358.1"/>
<polygon points="2039.6,398.7 2025.1,402.0 2026.2,392.3"/>
<polygon points="2066.7,472.5 2052.7,477.4 2052.7,467.6"/>
<polygon points="2058.5,640.5 2044.5,645.4 2044.5,635.6"/>
<polygon points="2047.0,694.0 2033.0,698.9 2033.0,689.1"/>
<polygon points="2283.3,152.8 2269.2,157.3 2269.4,147.5"/>
<polygon points="2287.3,256.2 2273.9,262.5 2272.9,252.7"/>
<polygon points="2297.8,295.3 2283.3,298.3 2284.6,288.6"/>
<polygon points="2327.4,347.0 2312.7,349.0 2314.6,339.4"/>
<polygon points="2374.4,374.9 2368.0,388.3 2361.0,381.3"/>
<polygon points="2602.8,293.4 2593.2,282.1 2602.3,278.6"/>
<polygon points="2540.1,306.9 2526.1,311.8 2526.1,302.0"/>
<polygon points="2549.9,321.4 2537.3,329.2 2535.2,319.6"/>
</g>
<rect x="5.0" y="463.0" width="190.0" height="45.0" fill="#bfbfbf" stroke="#000" stroke-width="1.4"/>
<text transform="translate(100.0,480.1) scale(1,1.08)" text-anchor="middle">ns3::LteEnbRrcProtocolIdeal</text>
<text transform="translate(100.0,496.9) scale(1,1.08)" text-anchor="middle">::DoSendSystemInformation</text>
<rect x="260.0" y="339.0" width="144.0" height="27.4" fill="#fff" stroke="#000" stroke-width="1.4"/>
<text transform="translate(332.0,355.7) scale(1,1.08)" text-anchor="middle">ns3::NodeList::Begin</text>
<rect x="264.5" y="392.0" width="135.1" height="28.0" fill="#fff" stroke="#000" stroke-width="1.4"/>
<text transform="translate(332.1,409.0) scale(1,1.08)" text-anchor="middle">ns3::NodeList::End</text>
<rect x="256.0" y="446.0" width="152.0" height="27.4" fill="#fff" stroke="#000" stroke-width="1.4"/>
<text transform="translate(332.0,462.7) scale(1,1.08)" text-anchor="middle">ns3::Node::GetDevice</text>
<rect x="247.0" y="499.0" width="170.0" height="27.0" fill="#fff" stroke="#000" stroke-width="1.4"/>
<text transform="translate(332.0,515.5) scale(1,1.08)" text-anchor="middle">ns3::Node::GetNDevices</text>
<rect x="243.0" y="552.0" width="178.0" height="45.0" fill="#fff" stroke="#000" stroke-width="1.4"/>
<text transform="translate(332.0,569.0) scale(1,1.08)" text-anchor="middle">ns3::LteUeRrcSapProvider</text>
<text transform="translate(332.0,586.0) scale(1,1.08)" text-anchor="middle">::RecvSystemInformation</text>
<rect x="469.0" y="392.0" width="155.0" height="28.0" fill="#fff" stroke="#000" stroke-width="1.4"/>
<text transform="translate(546.5,409.0) scale(1,1.08)" text-anchor="middle">ns3::NodeListPriv::Get</text>
<rect x="673.0" y="383.0" width="134.0" height="46.0" fill="#fff" stroke="#000" stroke-width="1.4"/>
<text transform="translate(740.0,400.6) scale(1,1.08)" text-anchor="middle">ns3::NodeListPriv::</text>
<text transform="translate(740.0,417.4) scale(1,1.08)" text-anchor="middle">DoGet</text>
<rect x="856.0" y="381.0" width="168.0" height="45.0" fill="#fff" stroke="#000" stroke-width="1.4"/>
<text transform="translate(940.0,398.1) scale(1,1.08)" text-anchor="middle">ns3::Simulator::Schedule</text>
<text transform="translate(940.0,414.9) scale(1,1.08)" text-anchor="middle">Destroy</text>
<rect x="873.0" y="450.0" width="134.0" height="45.0" fill="#fff" stroke="#000" stroke-width="1.4"/>
<text transform="translate(940.0,467.1) scale(1,1.08)" text-anchor="middle">ns3::NodeListPriv::</text>
<text transform="translate(940.0,483.9) scale(1,1.08)" text-anchor="middle">Delete</text>
<rect x="856.0" y="597.0" width="168.0" height="28.0" fill="#fff" stroke="#000" stroke-width="1.4"/>
<text transform="translate(940.0,614.0) scale(1,1.08)" text-anchor="middle">ns3::Simulator::Schedule</text>
<rect x="1072.0" y="381.0" width="186.0" height="45.0" fill="#fff" stroke="#000" stroke-width="1.4"/>
<text transform="translate(1165.0,398.1) scale(1,1.08)" text-anchor="middle">ns3::Simulator::DoSchedule</text>
<text transform="translate(1165.0,414.9) scale(1,1.08)" text-anchor="middle">Destroy</text>
<rect x="1107.0" y="456.0" width="117.0" height="28.0" fill="#fff" stroke="#000" stroke-width="1.4"/>
<text transform="translate(1165.5,473.0) scale(1,1.08)" text-anchor="middle">ns3::MakeEvent</text>
<rect x="1072.0" y="521.0" width="186.0" height="45.0" fill="#fff" stroke="#000" stroke-width="1.4"/>
<text transform="translate(1165.0,538.0) scale(1,1.08)" text-anchor="middle">ns3::Config::UnregisterRoot</text>
<text transform="translate(1165.0,555.0) scale(1,1.08)" text-anchor="middle">NamespaceObject</text>
<rect x="1072.0" y="597.0" width="186.0" height="28.0" fill="#fff" stroke="#000" stroke-width="1.4"/>
<text transform="translate(1165.0,614.0) scale(1,1.08)" text-anchor="middle">ns3::Simulator::DoSchedule</text>
<rect x="1307.0" y="152.6" width="175.0" height="45.4" fill="#fff" stroke="#000" stroke-width="1.4"/>
<text transform="translate(1394.5,169.9) scale(1,1.08)" text-anchor="middle">ns3::Config::RegisterRoot</text>
<text transform="translate(1394.5,186.8) scale(1,1.08)" text-anchor="middle">NamespaceObject</text>
<rect x="1329.0" y="350.0" width="131.0" height="45.0" fill="#fff" stroke="#000" stroke-width="1.4"/>
<text transform="translate(1394.5,367.1) scale(1,1.08)" text-anchor="middle">ns3::SimulatorImpl</text>
<text transform="translate(1394.5,383.9) scale(1,1.08)" text-anchor="middle">::ScheduleDestroy</text>
<rect x="1346.0" y="420.5" width="97.0" height="27.5" fill="#fff" stroke="#000" stroke-width="1.4"/>
<text transform="translate(1394.5,437.2) scale(1,1.08)" text-anchor="middle">ns3::GetImpl</text>
<rect x="1329.0" y="783.5" width="131.0" height="45.0" fill="#fff" stroke="#000" stroke-width="1.4"/>
<text transform="translate(1394.5,800.5) scale(1,1.08)" text-anchor="middle">ns3::SimulatorImpl</text>
<text transform="translate(1394.5,817.5) scale(1,1.08)" text-anchor="middle">::Schedule</text>
<rect x="1556.0" y="83.5" width="134.0" height="45.5" fill="#fff" stroke="#000" stroke-width="1.4"/>
<text transform="translate(1623.0,100.8) scale(1,1.08)" text-anchor="middle">ns3::ObjectFactory</text>
<text transform="translate(1623.0,117.7) scale(1,1.08)" text-anchor="middle">::Create</text>
<rect x="1549.0" y="154.0" width="147.0" height="27.0" fill="#fff" stroke="#000" stroke-width="1.4"/>
<text transform="translate(1622.5,170.5) scale(1,1.08)" text-anchor="middle">ns3::StringValue::Get</text>
<rect x="1565.5" y="206.5" width="113.5" height="28.0" fill="#fff" stroke="#000" stroke-width="1.4"/>
<text transform="translate(1622.2,223.5) scale(1,1.08)" text-anchor="middle">ns3::GetPointer</text>
<rect x="1531.0" y="260.0" width="183.0" height="28.0" fill="#fff" stroke="#000" stroke-width="1.4"/>
<text transform="translate(1622.5,277.0) scale(1,1.08)" text-anchor="middle">ns3::GlobalValue::GetValue</text>
<rect x="1541.5" y="313.6" width="161.5" height="27.7" fill="#fff" stroke="#000" stroke-width="1.4"/>
<text transform="translate(1622.2,330.5) scale(1,1.08)" text-anchor="middle">ns3::LogSetNodePrinter</text>
<rect x="1543.0" y="366.7" width="159.4" height="27.7" fill="#fff" stroke="#000" stroke-width="1.4"/>
<text transform="translate(1622.7,383.5) scale(1,1.08)" text-anchor="middle">ns3::LogSetTimePrinter</text>
<rect x="1562.5" y="419.4" width="120.5" height="28.6" fill="#fff" stroke="#000" stroke-width="1.4"/>
<text transform="translate(1622.8,436.7) scale(1,1.08)" text-anchor="middle">ns3::NodePrinter</text>
<rect x="1569.0" y="473.0" width="107.0" height="28.0" fill="#fff" stroke="#000" stroke-width="1.4"/>
<text transform="translate(1622.5,490.0) scale(1,1.08)" text-anchor="middle">ns3::PeekImpl</text>
<rect x="1563.0" y="628.0" width="119.0" height="28.0" fill="#fff" stroke="#000" stroke-width="1.4"/>
<text transform="translate(1622.5,645.0) scale(1,1.08)" text-anchor="middle">ns3::TimePrinter</text>
<rect x="1792.0" y="117.3" width="158.0" height="27.7" fill="#fff" stroke="#000" stroke-width="1.4"/>
<text transform="translate(1871.0,134.2) scale(1,1.08)" text-anchor="middle">ns3::Object::SetTypeId</text>
<rect x="1793.0" y="170.7" width="155.5" height="27.8" fill="#fff" stroke="#000" stroke-width="1.4"/>
<text transform="translate(1870.8,187.6) scale(1,1.08)" text-anchor="middle">ns3::Object::Construct</text>
<rect x="1810.0" y="224.0" width="121.0" height="28.0" fill="#fff" stroke="#000" stroke-width="1.4"/>
<text transform="translate(1870.5,241.0) scale(1,1.08)" text-anchor="middle">ns3::Ptr::Acquire</text>
<rect x="1797.0" y="277.0" width="147.0" height="28.0" fill="#fff" stroke="#000" stroke-width="1.4"/>
<text transform="translate(1870.5,294.0) scale(1,1.08)" text-anchor="middle">ns3::StringValue::Set</text>
<rect x="1762.0" y="366.6" width="217.0" height="28.0" fill="#fff" stroke="#000" stroke-width="1.4"/>
<text transform="translate(1870.5,383.6) scale(1,1.08)" text-anchor="middle">ns3::CheckEnvironmentVariables</text>
<rect x="1780.0" y="458.6" width="182.0" height="27.6" fill="#fff" stroke="#000" stroke-width="1.4"/>
<text transform="translate(1871.0,475.4) scale(1,1.08)" text-anchor="middle">ns3::Simulator::GetContext</text>
<rect x="1790.0" y="626.0" width="161.0" height="28.7" fill="#fff" stroke="#000" stroke-width="1.4"/>
<text transform="translate(1870.5,643.4) scale(1,1.08)" text-anchor="middle">ns3::Time::GetSeconds</text>
<rect x="1800.0" y="680.0" width="141.0" height="28.0" fill="#fff" stroke="#000" stroke-width="1.4"/>
<text transform="translate(1870.5,697.0) scale(1,1.08)" text-anchor="middle">ns3::Simulator::Now</text>
<rect x="2027.0" y="258.7" width="207.0" height="27.9" fill="#fff" stroke="#ff0000" stroke-width="1.4"/>
<text transform="translate(2130.5,275.6) scale(1,1.08)" text-anchor="middle">ns3::ObjectBase::ConstructSelf</text>
<rect x="2063.0" y="130.5" width="135.5" height="28.1" fill="#fff" stroke="#000" stroke-width="1.4"/>
<text transform="translate(2130.8,147.6) scale(1,1.08)" text-anchor="middle">ns3::Object::Check</text>
<rect x="2053.0" y="340.0" width="155.0" height="28.0" fill="#fff" stroke="#ff0000" stroke-width="1.4"/>
<text transform="translate(2130.5,357.0) scale(1,1.08)" text-anchor="middle">ns3::ComponentExists</text>
<rect x="2037.0" y="393.5" width="187.0" height="27.9" fill="#fff" stroke="#ff0000" stroke-width="1.4"/>
<text transform="translate(2130.5,410.4) scale(1,1.08)" text-anchor="middle">ns3::LogComponentPrintList</text>
<rect x="2065.0" y="450.0" width="131.0" height="45.4" fill="#fff" stroke="#000" stroke-width="1.4"/>
<text transform="translate(2130.5,467.2) scale(1,1.08)" text-anchor="middle">ns3::SimulatorImpl</text>
<text transform="translate(2130.5,484.1) scale(1,1.08)" text-anchor="middle">::GetContext</text>
<rect x="2064.0" y="526.0" width="133.0" height="45.0" fill="#fff" stroke="#000" stroke-width="1.4"/>
<text transform="translate(2130.5,543.0) scale(1,1.08)" text-anchor="middle">ns3::ObjectFactory</text>
<text transform="translate(2130.5,560.0) scale(1,1.08)" text-anchor="middle">::SetTypeId</text>
<rect x="2058.5" y="626.6" width="144.1" height="27.7" fill="#fff" stroke="#ff0000" stroke-width="1.4"/>
<text transform="translate(2130.6,643.5) scale(1,1.08)" text-anchor="middle">ns3::Time::ToDouble</text>
<rect x="2047.0" y="680.0" width="167.0" height="28.0" fill="#fff" stroke="#000" stroke-width="1.4"/>
<text transform="translate(2130.5,697.0) scale(1,1.08)" text-anchor="middle">ns3::SimulatorImpl::Now</text>
<rect x="2292.0" y="66.5" width="189.0" height="28.1" fill="#fff" stroke="#000" stroke-width="1.4"/>
<text transform="translate(2386.5,83.5) scale(1,1.08)" text-anchor="middle">ns3::TypeId::GetConstructor</text>
<rect x="2283.0" y="119.5" width="207.0" height="79.8" fill="#fff" stroke="#000" stroke-width="1.4"/>
<text transform="translate(2294.0,136.7) scale(1,1.08)">ns3::SimpleRefCount</text>
<text transform="translate(2294.0,153.9) scale(1,1.08)">&lt;&#160;Object,&#160;ObjectBase,</text>
<text transform="translate(2294.0,171.1) scale(1,1.08)">&#160;ObjectDeleter&#160;&gt;::GetReference</text>
<text transform="translate(2386.5,188.3) scale(1,1.08)" text-anchor="middle">Count</text>
<rect x="2287.0" y="223.4" width="199.0" height="44.9" fill="#fff" stroke="#000" stroke-width="1.4"/>
<text transform="translate(2386.5,240.4) scale(1,1.08)" text-anchor="middle">ns3::ObjectBase::GetInstance</text>
<text transform="translate(2386.5,257.3) scale(1,1.08)" text-anchor="middle">TypeId</text>
<rect x="2297.0" y="293.3" width="179.0" height="27.7" fill="#fff" stroke="#000" stroke-width="1.4"/>
<text transform="translate(2386.5,310.1) scale(1,1.08)" text-anchor="middle">ns3::TypeId::GetAttributeN</text>
<rect x="2309.0" y="346.3" width="155.0" height="28.0" fill="#fff" stroke="#000" stroke-width="1.4"/>
<text transform="translate(2386.5,363.3) scale(1,1.08)" text-anchor="middle">ns3::TypeId::GetName</text>
<rect x="2539.0" y="293.5" width="135.0" height="27.5" fill="#fff" stroke="#000" stroke-width="1.4"/>
<text transform="translate(2606.5,310.2) scale(1,1.08)" text-anchor="middle">ns3::Singleton::Get</text>
</svg>
</body></html>
